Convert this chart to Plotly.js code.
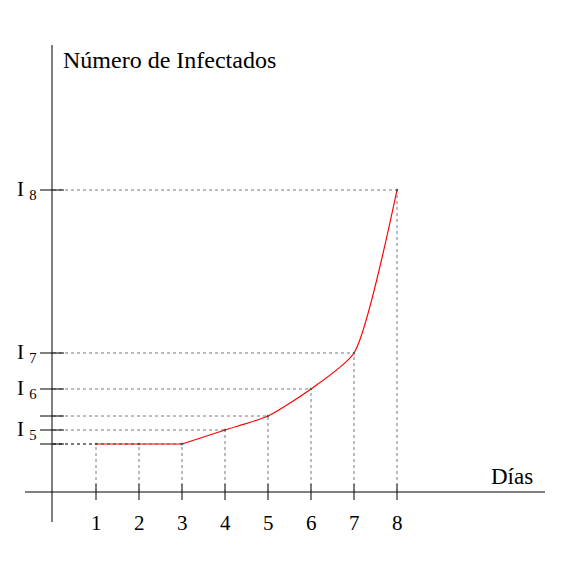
<!DOCTYPE html>
<html><head><meta charset="utf-8">
<script src="https://cdn.plot.ly/plotly-3.0.1.min.js"></script>
<style>body{margin:0}</style></head>
<body><div id="c" style="width:564px;height:562px"></div>
<script>
const dias = [1,2,3,4,5,6,7,8];
const infectados = [48,48,48,62,76,103,139,302];
const yTickVals = [48,62,76,103,139,302];
const yLabels = [{v:62,t:"I <sub>5</sub>"},{v:103,t:"I <sub>6</sub>"},{v:139,t:"I <sub>7</sub>"},{v:302,t:"I <sub>8</sub>"}];
const F = "Liberation Serif, DejaVu Serif, serif";
const px = 1/43;
const shapes = [];
const line = {color:"black",width:1};
const dot = {color:"#555",width:0.8,dash:"dot"};
shapes.push({type:"line",x0:-28*px,x1:492*px,y0:0,y1:0,line:line});
shapes.push({type:"line",x0:-1*px,x1:-1*px,y0:-30,y1:447,line:line});
dias.forEach((d,i)=>{
  shapes.push({type:"line",x0:d,x1:d,y0:-8,y1:8,line:line});
  shapes.push({type:"line",x0:d,x1:d,y0:0,y1:infectados[i],line:dot});
  shapes.push({type:"line",x0:0,x1:d,y0:infectados[i],y1:infectados[i],line:dot});
});
yTickVals.forEach(v=>shapes.push({type:"line",x0:-13*px,x1:11*px,y0:v,y1:v,line:line}));
const ann = [];
dias.forEach(d=>ann.push({x:d,y:-31,text:String(d),showarrow:false,font:{family:F,size:21,color:"black"}}));
yLabels.forEach(l=>ann.push({x:-26*px,y:l.v,text:l.t,showarrow:false,xanchor:"center",font:{family:F,size:21,color:"black"}}));
ann.push({x:8*px,y:432,text:"Número de Infectados",showarrow:false,xanchor:"left",font:{family:F,size:24,color:"black"}});
ann.push({x:436*px,y:16,text:"Días",showarrow:false,xanchor:"left",font:{family:F,size:23,color:"black"}});
const flatN = 3;
Plotly.newPlot("c",[
 {x:dias.slice(0,flatN),y:infectados.slice(0,flatN),mode:"lines+markers",line:{color:"red",width:1.2},marker:{size:2.5,color:"#555"},hoverinfo:"none"},
 {x:dias.slice(flatN-1),y:infectados.slice(flatN-1),mode:"lines+markers",line:{color:"red",width:1.2,shape:"spline",smoothing:0.6},marker:{size:2.5,color:"#555"},hoverinfo:"none"}
],{
  width:564,height:562,margin:{l:0,r:0,t:0,b:0},showlegend:false,
  paper_bgcolor:"white",plot_bgcolor:"white",
  xaxis:{range:[-53*px,511*px],visible:false,fixedrange:true},
  yaxis:{range:[-70,492],visible:false,fixedrange:true},
  shapes:shapes,annotations:ann
},{displayModeBar:false,staticPlot:true});
</script></body></html>
